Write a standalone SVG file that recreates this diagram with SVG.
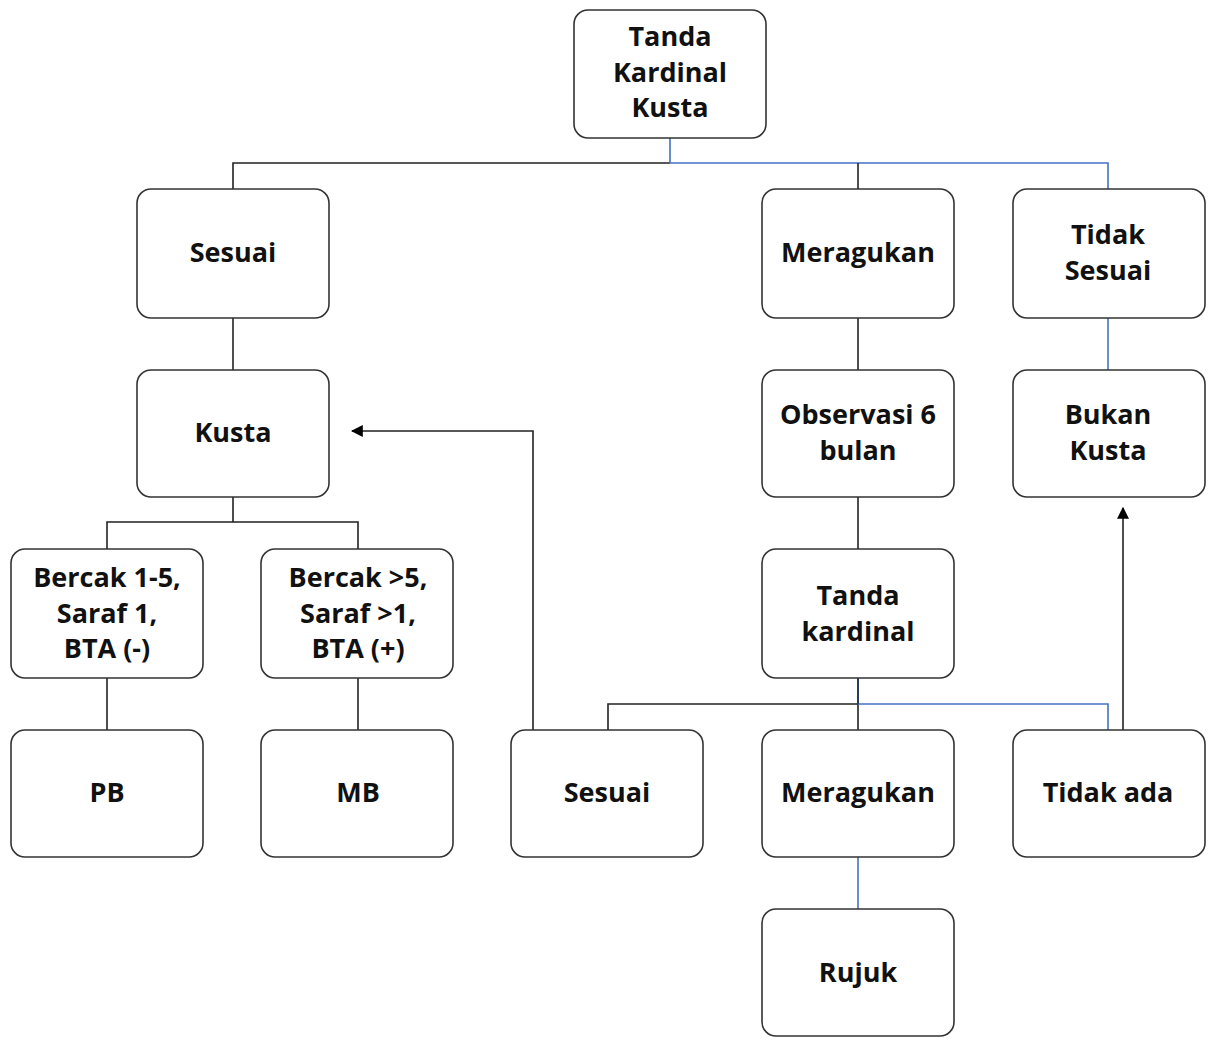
<svg xmlns="http://www.w3.org/2000/svg" width="1208" height="1038" viewBox="0 0 1208 1038">
<style>
.n rect{fill:#fff;stroke:#333;stroke-width:1.6}
.n text{font-family:"Open Sans","Noto Sans",sans-serif;font-weight:bold;font-size:27px;fill:#111;text-anchor:middle}
.k{stroke:#222;stroke-width:1.6;fill:none}
.b{stroke:#4472C4;stroke-width:1.6;fill:none}
</style>
<defs>
<marker id="ah" viewBox="0 0 10 10" refX="9" refY="5" markerWidth="12" markerHeight="12" markerUnits="userSpaceOnUse" orient="auto">
<path d="M0,0 L10,5 L0,10 Z" fill="#000"/>
</marker>
</defs>
<g id="connectors">
<path class="k" d="M233,189 V163 H670"/>
<path class="b" d="M670,138 V163 H1108 V189"/>
<path class="k" d="M858,163 V189"/>
<path class="k" d="M233,318 V370"/>
<path class="k" d="M858,318 V370"/>
<path class="k" d="M858,497 V549"/>
<path class="b" d="M1108,318 V370"/>
<path class="k" d="M233,497 V522 M107,549 V522 H358 V549"/>
<path class="k" d="M107,678 V730"/>
<path class="k" d="M358,678 V730"/>
<path class="k" d="M858,678 V730 M608,730 V704 H858"/>
<path class="b" d="M858,704 H1108 V730"/>
<path style="stroke:#1f3864;stroke-width:1.6" d="M858,678 V704"/>
<path class="b" d="M858,857 V909"/>
<path class="k" d="M533,730 V431 H352" marker-end="url(#ah)"/>
<path class="k" d="M1123,730 V508" marker-end="url(#ah)"/>
</g>
<g id="n-top" class="n"><rect x="574" y="10" width="192" height="128" rx="14"/><text x="670" y="46">Tanda</text><text x="670" y="82">Kardinal</text><text x="670" y="117">Kusta</text></g>
<g id="n-sesuai" class="n"><rect x="137" y="189" width="192" height="129" rx="14"/><text x="233" y="262">Sesuai</text></g>
<g id="n-meragukan" class="n"><rect x="762" y="189" width="192" height="129" rx="14"/><text x="858" y="262">Meragukan</text></g>
<g id="n-tidaksesuai" class="n"><rect x="1013" y="189" width="192" height="129" rx="14"/><text x="1108" y="244">Tidak</text><text x="1108" y="280">Sesuai</text></g>
<g id="n-kusta" class="n"><rect x="137" y="370" width="192" height="127" rx="14"/><text x="233" y="442">Kusta</text></g>
<g id="n-observasi" class="n"><rect x="762" y="370" width="192" height="127" rx="14"/><text x="858" y="424">Observasi 6</text><text x="858" y="460">bulan</text></g>
<g id="n-bukankusta" class="n"><rect x="1013" y="370" width="192" height="127" rx="14"/><text x="1108" y="424">Bukan</text><text x="1108" y="460">Kusta</text></g>
<g id="n-bercak1" class="n"><rect x="11" y="549" width="192" height="129" rx="14"/><text x="107" y="587">Bercak 1-5,</text><text x="107" y="623">Saraf 1,</text><text x="107" y="658">BTA (-)</text></g>
<g id="n-bercak5" class="n"><rect x="261" y="549" width="192" height="129" rx="14"/><text x="358" y="587">Bercak &gt;5,</text><text x="358" y="623">Saraf &gt;1,</text><text x="358" y="658">BTA (+)</text></g>
<g id="n-tandakardinal" class="n"><rect x="762" y="549" width="192" height="129" rx="14"/><text x="858" y="605">Tanda</text><text x="858" y="641">kardinal</text></g>
<g id="n-pb" class="n"><rect x="11" y="730" width="192" height="127" rx="14"/><text x="107" y="802">PB</text></g>
<g id="n-mb" class="n"><rect x="261" y="730" width="192" height="127" rx="14"/><text x="358" y="802">MB</text></g>
<g id="n-sesuai2" class="n"><rect x="511" y="730" width="192" height="127" rx="14"/><text x="607" y="802">Sesuai</text></g>
<g id="n-meragukan2" class="n"><rect x="762" y="730" width="192" height="127" rx="14"/><text x="858" y="802">Meragukan</text></g>
<g id="n-tidakada" class="n"><rect x="1013" y="730" width="192" height="127" rx="14"/><text x="1108" y="802">Tidak ada</text></g>
<g id="n-rujuk" class="n"><rect x="762" y="909" width="192" height="127" rx="14"/><text x="858" y="982">Rujuk</text></g>
</svg>
